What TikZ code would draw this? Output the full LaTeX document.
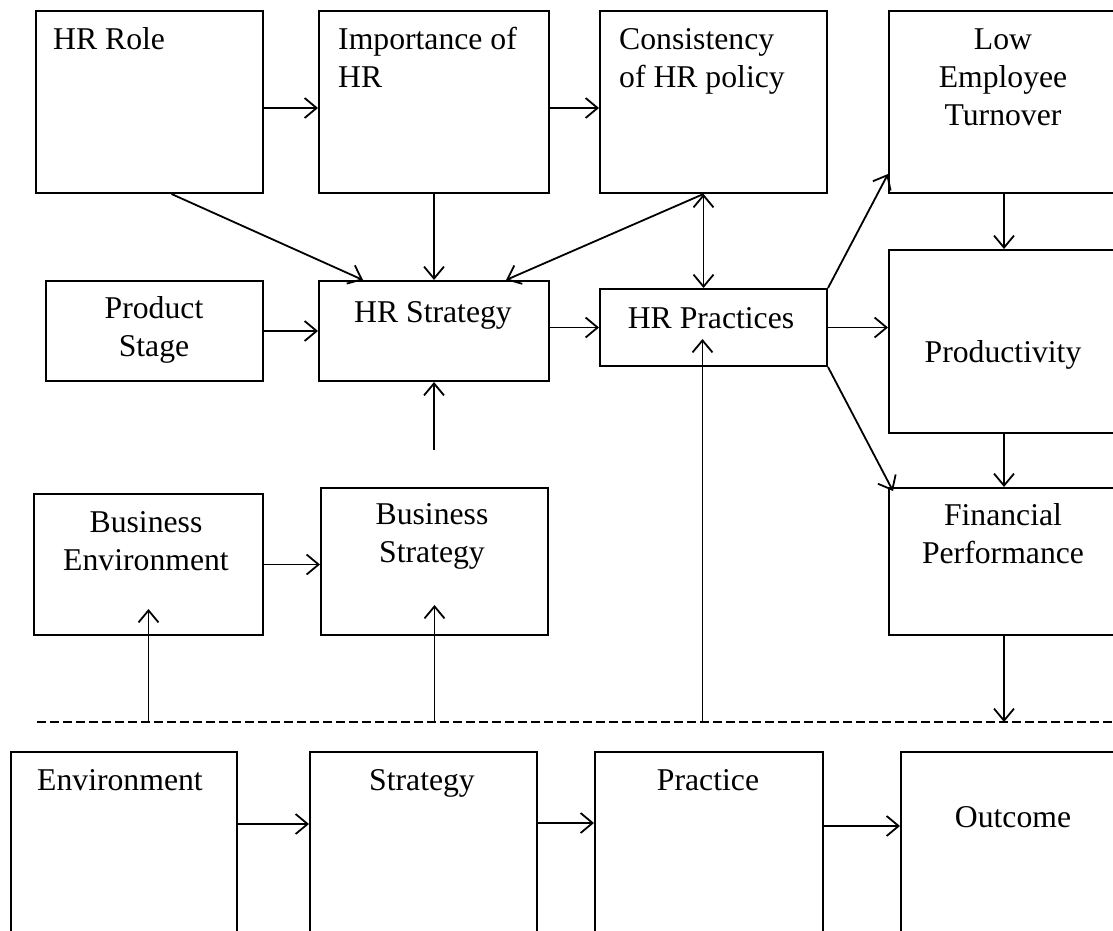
\documentclass[tikz,border=0pt]{standalone}
\usepackage{fontspec}
\setmainfont{Liberation Serif}
\usetikzlibrary{arrows.meta}
\tikzset{boite/.style 2 args={draw,line width=2pt,inner sep=0pt,anchor=north west,
    minimum width=#1,minimum height=#2},
  texte/.style={font=\fontsize{31.7}{38}\selectfont,inner sep=0pt,anchor=base,align=center},
  fl/.style={-{Straight Barb[length=12pt,width=20pt,line width=1.8pt]},line width=1.8pt}
}
\begin{document}
\begin{tikzpicture}[x=1pt,y=-1pt]
    \useasboundingbox (0,0) rectangle (1113,931);
    \clip (0,0) rectangle (1113,931);

    % Dessine les boites du haut
    \node[boite={227pt}{182pt}] (role) at (35,10) {};
    \node[boite={230pt}{182pt}] (imp) at (318,10) {};
    \node[boite={227pt}{182pt}] (cons) at (599,10) {};
    \node[boite={230pt}{182pt}] (low) at (888,10) {};
    \node[texte,anchor=base west,align=left] (role-t) at (53,50) {HR Role};
    \node[texte,anchor=base west,align=left] (imp-t) at (338,88) {Importance of\\HR};
    \node[texte,anchor=base west,align=left] (cons-t) at (619,88) {Consistency\\of HR policy};
    \node[texte] (low-t) at (1003,126) {Low\\Employee\\Turnover};

    % Dessine la deuxieme rangee
    \node[boite={217pt}{100pt}] (prod) at (45,280) {};
    \node[boite={230pt}{100pt}] (hrs) at (318,280) {};
    \node[boite={227pt}{77pt}] (hrp) at (599,288) {};
    \node[boite={230pt}{183pt}] (pty) at (888,249) {};
    \node[texte] (prod-t) at (154,356) {Product\\Stage};
    \node[texte] (hrs-t) at (433,322) {HR Strategy};
    \node[texte] (hrp-t) at (711,328) {HR Practices};
    \node[texte] (pty-t) at (1003,362) {Productivity};

    % Dessine la troisieme rangee
    \node[boite={229pt}{141pt}] (benv) at (33,493) {};
    \node[boite={227pt}{147pt}] (bstr) at (320,487) {};
    \node[boite={230pt}{147pt}] (fin) at (888,487) {};
    \node[texte] (benv-t) at (146,570) {Business\\Environment};
    \node[texte] (bstr-t) at (432,562) {Business\\Strategy};
    \node[texte] (fin-t) at (1003,563) {Financial\\Performance};

    % Dessine les boites du bas
    \node[boite={226pt}{220pt}] (env) at (10,751) {};
    \node[boite={227pt}{220pt}] (str) at (309,751) {};
    \node[boite={228pt}{220pt}] (pra) at (594,751) {};
    \node[boite={226pt}{220pt}] (out) at (900,751) {};
    \node[texte,anchor=base west,align=left] (env-t) at (37,790) {Environment};
    \node[texte] (str-t) at (422,790) {Strategy};
    \node[texte] (pra-t) at (708,790) {Practice};
    \node[texte] (out-t) at (1013,827) {Outcome};

    % Dessine la ligne pointillee
    \coordinate (dl0) at (37,722);
    \coordinate (dl1) at (1113,722);
    \draw[dashed,dash pattern=on 9pt off 4pt,line width=1.8pt] (dl0) -- (dl1);
    \coordinate (d1) at (benv.south |- dl0);
    \coordinate (d2) at (bstr.south |- dl0);
    \coordinate (d3) at ([xshift=-11pt]hrp.south |- dl0);
    \coordinate (d4) at (fin.south |- dl0);
    \coordinate (bs) at (hrs.south |- 0,450);

    % Dessine les fleches
    \draw[fl] ([yshift=-6pt]role.east) -- ([yshift=-6pt]imp.west);
    \draw[fl] ([yshift=-6pt]imp.east) -- ([yshift=-6pt]cons.west);
    \draw[fl] ([xshift=22pt]role.south) -- ([xshift=-71pt]hrs.north);
    \draw[fl] (imp.south) -- (hrs.north);
    \draw[fl] ([xshift=-10pt]cons.south) -- ([xshift=72pt]hrs.north);
    \draw[fl,{Straight Barb[length=12pt,width=20pt,line width=1.8pt]}-{Straight Barb[length=12pt,width=20pt,line width=1.8pt]}]
        ([xshift=-10pt]cons.south) -- ([xshift=-10pt]hrp.north);
    \draw[fl] (prod.east) -- (prod.east -| hrs.west);
    \draw[fl] (hrs.east |- hrp.west) -- (hrp.west);
    \draw[fl] (hrp.north east) -- ([yshift=20pt]low.south west);
    \draw[fl] (hrp.east) -- (hrp.east -| pty.west);
    \draw[fl] (hrp.south east) -- ([xshift=5pt,yshift=-4pt]fin.north west);
    \draw[fl] (low.south) -- (pty.north);
    \draw[fl] (pty.south) -- (fin.north);
    \draw[fl] (bs) -- (hrs.south);
    \draw[fl] (benv.east) -- (benv.east -| bstr.west);
    \draw[fl] (d1) -- ([yshift=27pt]benv.south);
    \draw[fl] (d2) -- ([yshift=31pt]bstr.south);
    \draw[fl] (d3) -- ([xshift=-11pt,yshift=28pt]hrp.south);
    \draw[fl] (fin.south) -- (d4);
    \draw[fl] ([yshift=-73pt]env.north east) -- ([yshift=-73pt]str.north west);
    \draw[fl] ([yshift=-72pt]str.north east) -- ([yshift=-72pt]pra.north west);
    \draw[fl] ([yshift=-75pt]pra.north east) -- ([yshift=-75pt]out.north west);
\end{tikzpicture}
\end{document}
